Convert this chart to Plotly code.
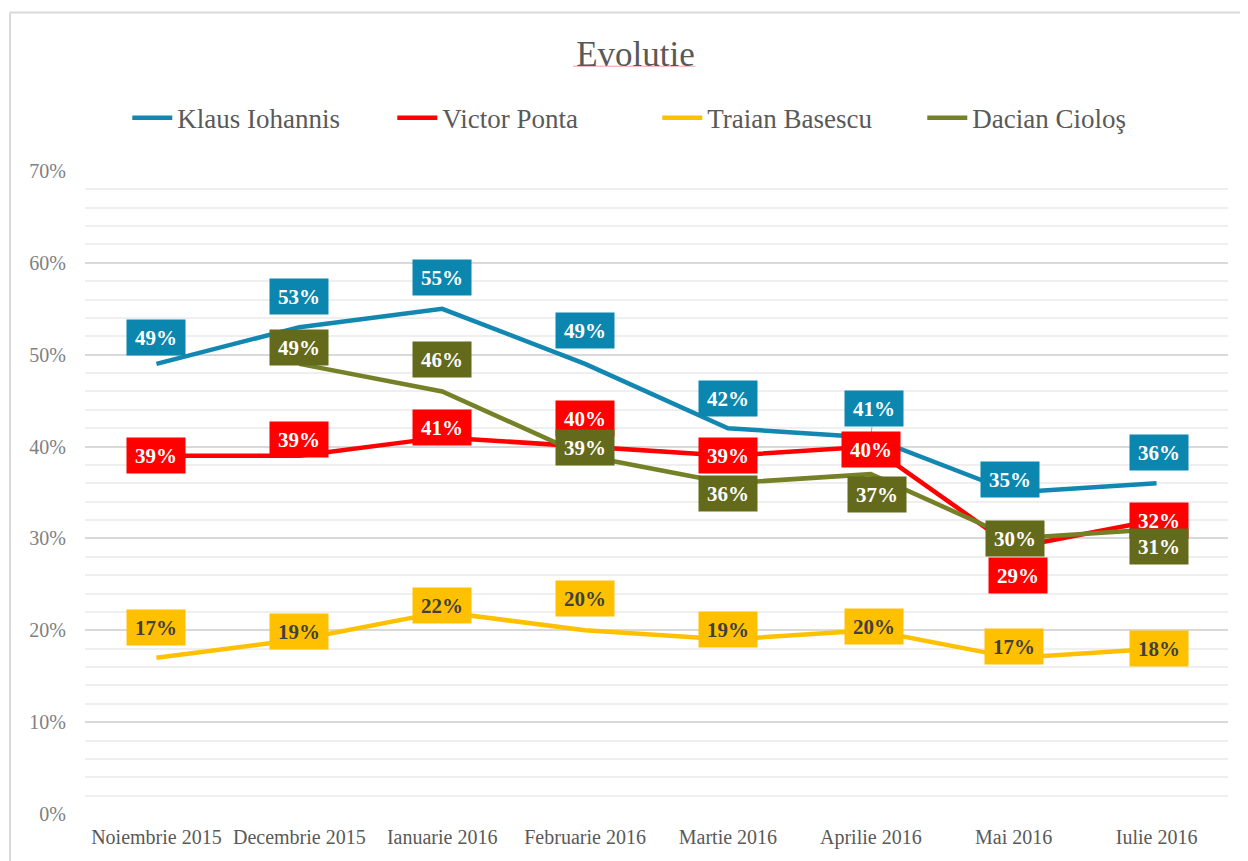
import plotly.graph_objects as go

months = ["Noiembrie 2015", "Decembrie 2015", "Ianuarie 2016", "Februarie 2016",
          "Martie 2016", "Aprilie 2016", "Mai 2016", "Iulie 2016"]
klaus = [49, 53, 55, 49, 42, 41, 35, 36]
ponta = [39, 39, 41, 40, 39, 40, 29, 32]
basescu = [17, 19, 22, 20, 19, 20, 17, 18]
ciolos = [None, 49, 46, 39, 36, 37, 30, 31]

names = ["Klaus Iohannis", "Victor Ponta", "Traian Basescu", "Dacian Cioloş"]
series = [klaus, ponta, basescu, ciolos]
line_colors = ["#1287B1", "#FF0000", "#FFC000", "#758027"]
box_colors = ["#0B87AF", "#FF0000", "#FFC000", "#636A1C"]
text_colors = ["white", "white", "#404040", "white"]

# label offsets in pixels (dx, dy) relative to each point
offsets = [
    [(0, 26), (0, 31), (0, 31), (0, 33), (0, 30), (3, 29), (-4, 13), (2, 31)],
    [(0, 0), (0, 16), (0, 10), (0, 28), (0, 0), (0, -3), (4, -28), (2, 0)],
    [(0, 30), (0, 8), (0, 6), (0, 32), (0, 10), (3, 4), (0, 11), (2, 0)],
    [(0, 0), (0, 16), (0, 32), (0, 8), (0, -10), (6, -20), (1, 0), (2, -17)],
]

FONT = "Liberation Serif, Times New Roman, serif"

fig = go.Figure()
for name, vals, col in zip(names, series, line_colors):
    fig.add_trace(go.Scatter(x=months, y=vals, name=name, mode="lines",
                             line=dict(color=col, width=4.5),
                             connectgaps=False, hoverinfo="skip"))

annotations = []
for si, vals in enumerate(series):
    for i, v in enumerate(vals):
        if v is None:
            continue
        dx, dy = offsets[si][i]
        common = dict(x=months[i], y=v, xref="x", yref="y",
                      text=f"<b>{v}%</b>",
                      font=dict(family=FONT, size=21, color=text_colors[si]),
                      bgcolor=box_colors[si], width=52, height=29, borderpad=3,
                      align="center", valign="middle")
        if si == 0 and i == 5:
            annotations.append(dict(**common, showarrow=True, arrowhead=0,
                                    arrowwidth=1, arrowcolor="#A6A6A6",
                                    ax=dx, ay=-dy, standoff=2))
        else:
            annotations.append(dict(**common, showarrow=False,
                                    xshift=dx, yshift=dy))

# paper coords: plot area spans x 85..1228 px, y 171..816 px of the page
shapes = [
    dict(type="line", xref="paper", yref="paper", x0=-0.0744, x1=1.02,
         y0=1.2605, y1=1.2605, line=dict(color="#D9D9D9", width=3)),
    dict(type="line", xref="paper", yref="paper", x0=-0.0656, x1=1.02,
         y0=1.2465, y1=1.2465, line=dict(color="#D9D9D9", width=2)),
    dict(type="line", xref="paper", yref="paper", x0=-0.0656, x1=-0.0656,
         y0=1.2465, y1=-0.08, line=dict(color="#D9D9D9", width=2)),
    dict(type="line", xref="paper", yref="paper", x0=0.427, x1=0.534,
         y0=1.163, y1=1.163, line=dict(color="#F4A0A0", width=1)),
]

fig.update_layout(
    width=1240, height=853,
    margin=dict(l=77, r=20, t=163, b=45),
    paper_bgcolor="white", plot_bgcolor="white",
    font=dict(family=FONT, color="#595959"),
    title=dict(text="Evolutie", x=0.506, xanchor="center", y=0.946,
               yanchor="middle", yref="container",
               font=dict(family=FONT, size=35, color="#595959")),
    legend=dict(orientation="h", x=0.037, xanchor="left", y=1.082,
                yanchor="middle", font=dict(family=FONT, size=27, color="#595959"),
                itemwidth=40, tracegroupgap=0, entrywidth=210,
                entrywidthmode="pixels"),
    showlegend=True,
    annotations=annotations,
    shapes=shapes,
)
fig.update_xaxes(type="category", categoryorder="array", categoryarray=months,
                 showgrid=False, showline=False, zeroline=False,
                 tickfont=dict(family=FONT, size=20, color="#595959"),
                 ticks="", ticklabelstandoff=9, range=[-0.5, 7.5])
fig.update_yaxes(range=[0, 70], dtick=10, tickformat=".0f", ticksuffix="%",
                 showgrid=True, gridcolor="#D9D9D9", gridwidth=1.5,
                 minor=dict(dtick=2, showgrid=True, gridcolor="#EFEFEF", gridwidth=1.5),
                 zeroline=False, showline=False, ticks="",
                 tickfont=dict(family=FONT, size=20, color="#808080"),
                 ticklabelstandoff=18)

fig.write_html("out.html")
